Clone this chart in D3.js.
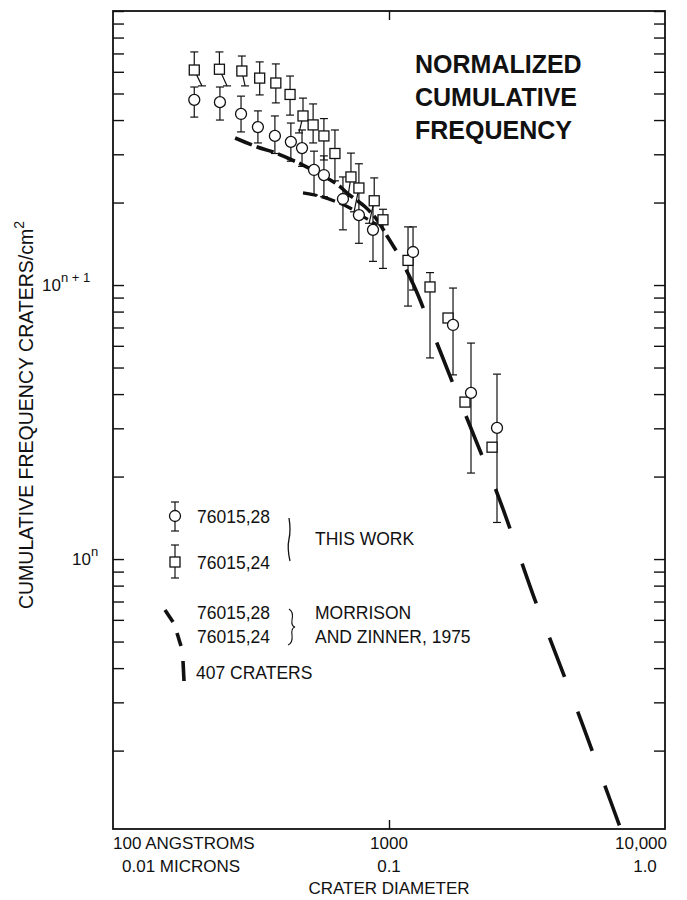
<!DOCTYPE html>
<html>
<head>
<meta charset="utf-8">
<script src="https://cdn.jsdelivr.net/npm/d3@7"></script>
<style>
  body { margin: 0; background: #fff; }
  svg text { font-family: 'Liberation Sans', Arial, sans-serif; fill: #111; }
</style>
</head>
<body>
<div id="chart"></div>
<script>
// crater diameter in angstroms, frequency in units of 10^n craters/cm2
var circleX  = [197, 244, 291, 335, 386, 441, 484, 535, 581, 681, 778, 875, 1222, 1706, 1982, 2462],
    circleY  = [47.4, 46.5, 42.1, 37.7, 35.0, 33.3, 31.6, 26.3, 25.2, 20.6, 18.0, 15.9, 13.2, 7.15, 4.04, 3.01],
    circleHi = [52.8, 52.8, 48.9, 43.2, 41.4, 39.0, 36.8, 30.8, 29.6, 24.8, 22.8, 20.4, 16.3, 9.75, 6.14, 4.73],
    circleLo = [41.0, 40.0, 36.2, 33.0, 30.2, 28.3, 27.1, 21.3, 21.0, 15.9, 14.2, 12.2, 9.59, 4.70, 2.06, 1.36];

var squareX   = [197, 243, 293, 340, 389, 438, 488, 531, 581, 637, 728, 778, 884, 951, 1172, 1408, 1636, 1885, 2362],
    squareY   = [60.9, 61.3, 60.4, 56.9, 54.6, 49.6, 41.4, 38.4, 35.0, 30.2, 24.8, 22.6, 20.3, 17.3, 12.3, 9.84, 7.58, 3.74, 2.56],
    squareHi  = [70.9, 70.9, 68.5, 65.2, 64.1, 57.9, 48.1, 45.8, 40.5, 36.8, 30.3, 27.7, 24.6, 18.9, 16.3, 11.1, null, null, null],
    squareLo  = [53.3, 53.3, 53.3, 49.4, 46.2, 41.7, 35.9, 33.0, 28.6, 24.0, 21.0, 18.5, 16.8, 11.5, 8.38, 5.42, null, null, null],
    squareLoX = [210, 259, 301, null, null, null, 472, null, null, null, 710, 747, 847, null, null, null, null, null, null];

// Morrison and Zinner 1975 curves
var mzX   = [277, 333, 380, 445, 488, 562, 653, 704, 819, 905, 984, 1069, 1242, 1443, 1749, 2083, 2503, 3381, 3831, 4877, 6012, 7000],
    mzY   = [34.4, 31.9, 30.6, 28.6, 27.4, 25.4, 23.2, 21.7, 19.3, 17.3, 15.1, 13.2, 9.75, 6.68, 4.10, 2.65, 1.67, 0.708, 0.511, 0.270, 0.152, 0.100],
    mzLowX = [488, 562, 648, 722, 819, 905],
    mzLowY = [21.7, 21.1, 20.1, 19.1, 17.6, 16.6];

var titleLines = ['NORMALIZED', 'CUMULATIVE', 'FREQUENCY'];

var width = 687, height = 900,
    L = 113, R = 665, T = 11, B = 829;

var svg = d3.select('#chart').append('svg')
    .attr('width', width)
    .attr('height', height);

var x = d3.scaleLog().domain([100, 10000]).range([L, R]),
    y = d3.scaleLog().domain([0.1035, 100]).range([B, T]);

draw();

function draw() {
    svg.append('clipPath').attr('id', 'plot')
      .append('rect')
        .attr('x', L).attr('y', T)
        .attr('width', R - L).attr('height', B - T);

    // ticks, all pointing inward
    svg.append('g')
        .attr('transform', 'translate(' + L + ',0)')
        .call(d3.axisLeft(y).tickSize(-11).tickFormat(''))
        .call(tidy);
    svg.append('g')
        .attr('transform', 'translate(' + R + ',0)')
        .call(d3.axisRight(y).tickSize(-11).tickFormat(''))
        .call(tidy);
    svg.append('g')
        .attr('transform', 'translate(0,' + B + ')')
        .call(d3.axisBottom(x).tickValues([1000]).tickSize(-9).tickFormat(''))
        .call(tidy);
    svg.append('g')
        .attr('transform', 'translate(0,' + T + ')')
        .call(d3.axisTop(x).tickValues([1000]).tickSize(-9).tickFormat(''))
        .call(tidy);

    svg.append('rect')
        .attr('x', L).attr('y', T)
        .attr('width', R - L).attr('height', B - T)
        .style('fill', 'none')
        .style('stroke', '#111')
        .style('stroke-width', 1.8);

    // dashed reference curves
    var line = d3.line()
        .x(function(d) { return x(d[0]); })
        .y(function(d) { return y(d[1]); })
        .curve(d3.curveCatmullRom);
    var mz = d3.zip(mzX, mzY);
    var plot = svg.append('g').attr('clip-path', 'url(#plot)');
    plot.append('path')
        .datum(mz.slice(0, 12))
        .attr('d', line)
        .style('fill', 'none').style('stroke', '#111')
        .style('stroke-width', 3.6)
        .style('stroke-dasharray', '18,5');
    plot.append('path')
        .datum(mz.slice(11))
        .attr('d', line)
        .style('fill', 'none').style('stroke', '#111')
        .style('stroke-width', 3.6)
        .style('stroke-dasharray', '0,20,42,17');
    plot.append('path')
        .datum(d3.zip(mzLowX, mzLowY))
        .attr('d', line)
        .style('fill', 'none').style('stroke', '#111')
        .style('stroke-width', 3.2)
        .style('stroke-dasharray', '14,5');

    // error bars
    var bars = svg.append('g')
        .style('stroke', '#111')
        .style('stroke-width', 1.2);
    circleX.forEach(function(v, i) {
        errBar(bars, x(v), y(circleY[i]), y(circleHi[i]), x(v), y(circleLo[i]));
    });
    squareX.forEach(function(v, i) {
        if (squareHi[i] === null) return;
        var lx = squareLoX[i] === null ? v : squareLoX[i];
        errBar(bars, x(v), y(squareY[i]), y(squareHi[i]), x(lx), y(squareLo[i]));
    });

    svg.append('g').selectAll('rect')
        .data(squareX)
        .enter().append('rect')
        .attr('x', function(d) { return x(d) - 5; })
        .attr('y', function(d, i) { return y(squareY[i]) - 5; })
        .attr('width', 10).attr('height', 10)
        .style('fill', '#fff').style('stroke', '#111').style('stroke-width', 1.3);

    svg.append('g').selectAll('circle')
        .data(circleX)
        .enter().append('circle')
        .attr('cx', function(d) { return x(d); })
        .attr('cy', function(d, i) { return y(circleY[i]); })
        .attr('r', 5.5)
        .style('fill', '#fff').style('stroke', '#111').style('stroke-width', 1.3);

    // title
    svg.selectAll('.title')
        .data(titleLines)
        .enter().append('text')
        .attr('x', 415)
        .attr('y', function(d, i) { return 73 + i * 33; })
        .style('font-size', '25px')
        .style('font-weight', 'bold')
        .text(function(d) { return d; });

    // y labels
    var yl = svg.append('text').attr('x', 42).attr('y', 291).style('font-size', '17px');
    yl.append('tspan').text('10');
    yl.append('tspan').attr('dy', -9).style('font-size', '13px').text('n + 1');
    var yl2 = svg.append('text').attr('x', 72).attr('y', 565).style('font-size', '17px');
    yl2.append('tspan').text('10');
    yl2.append('tspan').attr('dy', -9).style('font-size', '13px').text('n');

    var yt = svg.append('text')
        .attr('transform', 'translate(33,415) rotate(-90)')
        .attr('text-anchor', 'middle')
        .style('font-size', '19.5px');
    yt.append('tspan').text('CUMULATIVE FREQUENCY CRATERS/cm');
    yt.append('tspan').attr('dy', -9).style('font-size', '14px').text('2');

    // x labels
    var xl = [
        ['100 ANGSTROMS', 113, 849, 'start'], ['0.01 MICRONS', 122, 872, 'start'],
        ['1000', x(1000), 849, 'middle'], ['0.1', x(1000), 872, 'middle'],
        ['10,000', 667, 849, 'end'], ['1.0', 645, 872, 'middle'],
        ['CRATER DIAMETER', x(1000), 894, 'middle']
    ];
    svg.selectAll('.xl')
        .data(xl)
        .enter().append('text')
        .attr('x', function(d) { return d[1]; })
        .attr('y', function(d) { return d[2]; })
        .attr('text-anchor', function(d) { return d[3]; })
        .style('font-size', '17px')
        .text(function(d) { return d[0]; });

    legend();
}

function errBar(g, cx, cy, hy, lx, ly) {
    g.append('line').attr('x1', cx).attr('x2', cx).attr('y1', cy).attr('y2', hy);
    g.append('line').attr('x1', cx - 4).attr('x2', cx + 4).attr('y1', hy).attr('y2', hy);
    g.append('line').attr('x1', cx).attr('x2', lx).attr('y1', cy).attr('y2', ly);
    g.append('line').attr('x1', lx - 4).attr('x2', lx + 4).attr('y1', ly).attr('y2', ly);
}

function legend() {
    var g = svg.append('g');
    var bars = g.append('g').style('stroke', '#111').style('stroke-width', 1.2);
    errBar(bars, 175, 516, 502, 175, 531);
    errBar(bars, 175, 562, 545, 175, 578);
    g.append('circle').attr('cx', 175).attr('cy', 516).attr('r', 5.5)
        .style('fill', '#fff').style('stroke', '#111').style('stroke-width', 1.3);
    g.append('rect').attr('x', 170).attr('y', 557).attr('width', 10).attr('height', 10)
        .style('fill', '#fff').style('stroke', '#111').style('stroke-width', 1.3);

    [[165, 610, 173, 622], [177, 633, 181, 646], [183, 661, 184, 681]].forEach(function(d) {
        g.append('line')
            .attr('x1', d[0]).attr('y1', d[1]).attr('x2', d[2]).attr('y2', d[3])
            .style('stroke', '#111').style('stroke-width', 3.6);
    });

    // braces
    g.append('path')
        .attr('d', 'M289,518 Q291,530 289,539 Q287,548 290,561')
        .style('fill', 'none').style('stroke', '#111').style('stroke-width', 1.3);
    g.append('path')
        .attr('d', 'M289,609 Q294,612 292,620 Q291,626 295,627 Q291,628 292,635 Q293,643 288,645')
        .style('fill', 'none').style('stroke', '#111').style('stroke-width', 1.1);

    var items = [
        ['76015,28', 197, 523], ['76015,24', 197, 569], ['THIS WORK', 315, 545],
        ['76015,28', 197, 619], ['76015,24', 197, 643],
        ['MORRISON', 315, 619], ['AND ZINNER, 1975', 315, 643],
        ['407 CRATERS', 196, 679]
    ];
    g.selectAll('.leg')
        .data(items)
        .enter().append('text')
        .attr('x', function(d) { return d[1]; })
        .attr('y', function(d) { return d[2]; })
        .style('font-size', '17.5px')
        .text(function(d) { return d[0]; });
}

function tidy(g) {
    g.select('.domain').remove();
    g.selectAll('.tick line').style('stroke', '#111').style('stroke-width', 1.4);
}
</script>
</body>
</html>
